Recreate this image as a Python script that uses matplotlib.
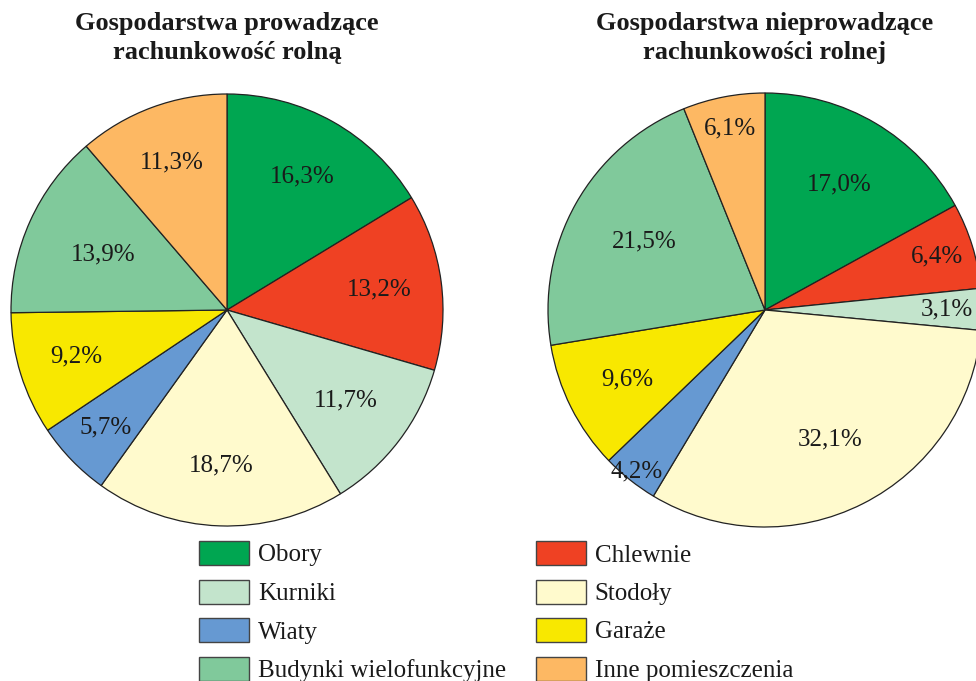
import numpy as np
import matplotlib.pyplot as plt
from matplotlib.patches import Patch

categories = ['Obory', 'Chlewnie', 'Kurniki', 'Stodoły', 'Wiaty', 'Garaże',
              'Budynki wielofunkcyjne', 'Inne pomieszczenia']
left_values = [16.3, 13.2, 11.7, 18.7, 5.7, 9.2, 13.9, 11.3]
right_values = [17.0, 6.4, 3.1, 32.1, 4.2, 9.6, 21.5, 6.1]
left_title = 'Gospodarstwa prowadzące\nrachunkowość rolną'
right_title = 'Gospodarstwa nieprowadzące\nrachunkowości rolnej'

colors = ['#00a651', '#ef4123', '#c3e4cc', '#fffacd', '#6699d2', '#f8e800',
          '#80c99b', '#fdb863']
# radial position of each percentage label (fraction of radius)
left_pos = [0.71, 0.71, 0.69, 0.72, 0.78, 0.73, 0.63, 0.73]
right_pos = [0.67, 0.83, 0.84, 0.67, 0.95, 0.71, 0.64, 0.85]

W, H = 976, 681
fig = plt.figure(figsize=(W / 100, H / 100), dpi=100)
ax = fig.add_axes([0, 0, 1, 1])

serif = 'Liberation Serif'


def draw_pie(values, cx, cy, r, pos, title, ty):
    wedges, _ = ax.pie(values, colors=colors, startangle=90, counterclock=False,
                       center=(cx, H - cy), radius=r,
                       wedgeprops=dict(edgecolor='#222222', linewidth=0.9))
    for w, v, p in zip(wedges, values, pos):
        ang = np.deg2rad((w.theta1 + w.theta2) / 2)
        x = cx + p * r * np.cos(ang)
        y = H - cy + p * r * np.sin(ang)
        ax.text(x, y, ('%.1f%%' % v).replace('.', ','), ha='center', va='center',
                fontsize=18, family=serif, color='#1a1a1a')
    ax.text(cx, H - ty, title, ha='center', va='center', fontsize=19,
            fontweight='bold', family=serif, linespacing=1.35, color='#1a1a1a')
    return wedges


draw_pie(left_values, 227, 310, 216, left_pos, left_title, 38)
draw_pie(right_values, 765, 310, 217, right_pos, right_title, 38)

ax.set_xlim(0, W)
ax.set_ylim(0, H)
ax.set_aspect('equal')
ax.axis('off')

order = [0, 2, 4, 6, 1, 3, 5, 7]
handles = [Patch(facecolor=colors[i], edgecolor='#444444', linewidth=1.0) for i in order]
labels = [categories[i] for i in order]
leg = ax.legend(handles, labels, ncol=2, loc='upper left',
                bbox_to_anchor=(199 / W, 1 - 541 / H), frameon=False,
                prop=dict(family=serif, size=18), handlelength=2.0,
                handleheight=1.1, handletextpad=0.35, labelspacing=0.52,
                columnspacing=1.2, borderpad=0, borderaxespad=0)
for t in leg.get_texts():
    t.set_color('#1a1a1a')

fig.savefig('out.png', dpi=100)
